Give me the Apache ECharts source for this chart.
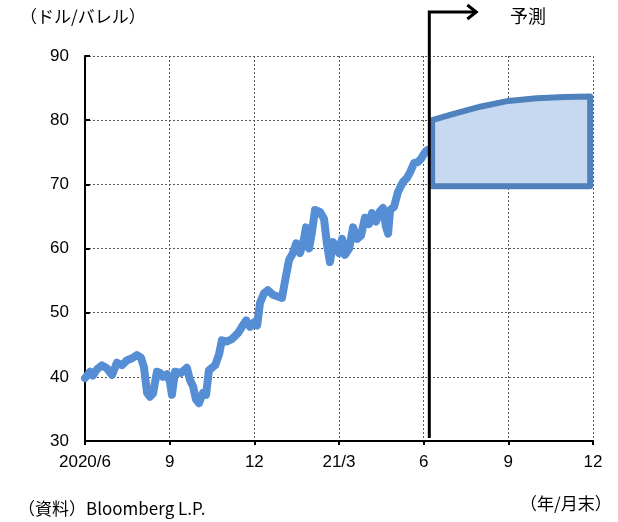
<!DOCTYPE html>
<html>
<head>
<meta charset="utf-8">
<script src="https://cdn.jsdelivr.net/npm/echarts@6/dist/echarts.min.js"></script>
<style>
  html, body { margin: 0; padding: 0; background: #fff; }
  #chart { width: 618px; height: 522px; }
</style>
</head>
<body>
<div id="chart"></div>
<script>
// Months elapsed since end of June 2020 (x) and WTI price in USD/bbl (y)
const historyMonths = [
  0.00, 0.18, 0.28, 0.43, 0.60, 0.78, 0.96, 1.13, 1.31, 1.49, 1.67, 1.84, 1.98, 2.09, 2.20, 2.30,
  2.41, 2.55, 2.66, 2.76, 2.91, 3.01, 3.08, 3.19, 3.40, 3.61, 3.72, 3.83, 3.93, 4.04, 4.18, 4.29,
  4.39, 4.61, 4.75, 4.85, 5.03, 5.21, 5.42, 5.56, 5.71, 5.85, 5.99, 6.10, 6.20, 6.34, 6.48, 6.66,
  6.84, 6.98, 7.09, 7.23, 7.37, 7.48, 7.62, 7.76, 7.83, 7.94, 8.04, 8.15, 8.33, 8.47, 8.58, 8.68,
  8.79, 8.89, 9.00, 9.11, 9.21, 9.36, 9.50, 9.64, 9.78, 9.92, 10.06, 10.17, 10.31, 10.45, 10.56,
  10.66, 10.74, 10.81, 10.95, 11.09, 11.27, 11.41, 11.52, 11.66, 11.80, 11.91, 12.05, 12.12
];
const historyPrices = [
  39.8, 40.8, 40.2, 41.2, 41.8, 41.3, 40.3, 42.2, 41.8, 42.6, 42.9, 43.4, 43.0, 41.5, 37.5, 36.9,
  37.4, 40.8, 40.6, 40.0, 40.4, 39.2, 37.2, 40.8, 40.6, 41.4, 39.5, 38.5, 36.5, 35.9, 37.5, 37.2,
  41.0, 41.8, 43.5, 45.7, 45.5, 45.9, 46.8, 47.8, 48.8, 47.8, 48.5, 48.0, 51.5, 53.0, 53.5, 52.8,
  52.5, 52.3, 55.0, 58.2, 59.3, 60.8, 59.3, 61.5, 63.3, 60.0, 62.5, 66.0, 65.7, 64.6, 60.5, 57.9,
  61.0, 60.5, 59.3, 61.5, 59.0, 60.0, 63.3, 61.5, 62.0, 64.8, 63.8, 65.5, 64.2, 65.8, 66.3,
  63.5, 62.3, 66.0, 66.5, 68.8, 70.4, 71.0, 71.9, 73.3, 73.5, 74.0, 75.0, 75.3
];

// Forecast range: upper bound path and flat lower bound
const forecastMonths = [12.3, 13.0, 14.0, 15.0, 16.0, 17.0, 17.9];
const forecastUpper  = [80.0, 80.9, 82.1, 83.0, 83.4, 83.6, 83.7];
const forecastLower  = 69.7;
const forecastStart  = 12.2;

// Axis ticks
const xTickMonths = [0, 3, 6, 9, 12, 15, 18];
const xTickLabels = ['2020/6', '9', '12', '21/3', '6', '9', '12'];
const yMin = 30, yMax = 90, yStep = 10;

const FONT = '"Liberation Sans", "Noto Sans CJK JP", sans-serif';
const JP_FONT = '"Noto Sans CJK JP", "Liberation Sans", sans-serif';

const historyData = historyMonths.map((m, i) => [m, historyPrices[i]]);

const chart = echarts.init(document.getElementById('chart'), null, { renderer: 'canvas' });

chart.setOption({
  animation: false,
  backgroundColor: '#ffffff',
  grid: { left: 85, right: 25, top: 56, bottom: 81 },
  xAxis: {
    type: 'value',
    min: 0, max: 18, interval: 3,
    axisLine: { lineStyle: { color: '#000', width: 2 } },
    axisTick: { show: true, length: 4, lineStyle: { color: '#000', width: 2 } },
    axisLabel: {
      color: '#000', fontFamily: FONT, fontSize: 17, margin: 13,
      formatter: v => { const i = xTickMonths.indexOf(v); return i >= 0 ? xTickLabels[i] : ''; }
    },
    splitLine: { show: true, lineStyle: { color: '#555', width: 1, type: [2, 2] } }
  },
  yAxis: {
    type: 'value',
    min: yMin, max: yMax, interval: yStep,
    axisLine: { show: true, lineStyle: { color: '#000', width: 2 } },
    axisTick: { show: true, inside: true, length: 5, lineStyle: { color: '#000', width: 2 } },
    axisLabel: { color: '#000', fontFamily: FONT, fontSize: 17, margin: 16 },
    splitLine: { show: true, lineStyle: { color: '#555', width: 1, type: [2, 2] } }
  },
  series: [
    {
      // Forecast range polygon
      type: 'custom',
      coordinateSystem: 'cartesian2d',
      data: [[forecastMonths[0], forecastLower]],
      clip: false,
      z: 3,
      renderItem: (params, api) => {
        const pts = forecastMonths.map((m, i) => api.coord([m, forecastUpper[i]]));
        pts.push(api.coord([forecastMonths[forecastMonths.length - 1], forecastLower]));
        pts.push(api.coord([forecastMonths[0], forecastLower]));
        return {
          type: 'polygon',
          shape: { points: pts },
          style: { fill: '#C6D9F1', stroke: '#4F81BD', lineWidth: 6, lineJoin: 'round' }
        };
      }
    },
    {
      // Actual price history
      type: 'line',
      data: historyData,
      showSymbol: false,
      symbol: 'none',
      lineStyle: { color: '#558ED5', width: 8, join: 'round', cap: 'round' },
      z: 4
    },
    {
      // Forecast start marker with arrow
      type: 'custom',
      coordinateSystem: 'cartesian2d',
      data: [[forecastStart, yMin]],
      clip: false,
      z: 5,
      renderItem: (params, api) => {
        const bottom = api.coord([forecastStart, yMin]);
        const x = bottom[0];
        const yBot = bottom[1] - 3;
        const yTop = 12;
        const xEnd = x + 47;
        const stroke = { stroke: '#000', lineWidth: 3, fill: null, lineJoin: 'miter' };
        return {
          type: 'group',
          children: [
            { type: 'polyline', shape: { points: [[x, yBot], [x, yTop], [xEnd, yTop]] }, style: stroke },
            { type: 'polyline', shape: { points: [[xEnd - 9, yTop - 7], [xEnd, yTop], [xEnd - 9, yTop + 7]] }, style: stroke }
          ]
        };
      }
    }
  ],
  graphic: [
    { type: 'text', left: 20, top: 8, style: { text: '（ドル/バレル）', fill: '#000', font: '17px ' + JP_FONT } },
    { type: 'text', left: 510, top: 7, style: { text: '予測', fill: '#000', font: '18px ' + JP_FONT } },
    { type: 'text', left: 18, top: 500, style: { text: '（資料）Bloomberg L.P.', fill: '#000', font: '17px ' + JP_FONT } },
    { type: 'text', left: 520, top: 495, style: { text: '（年/月末）', fill: '#000', font: '17px ' + JP_FONT } }
  ]
});
</script>
</body>
</html>
